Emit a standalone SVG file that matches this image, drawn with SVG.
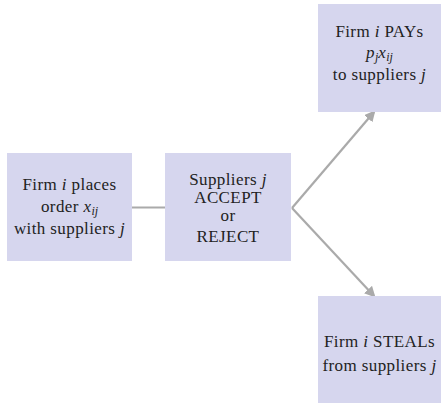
<svg xmlns="http://www.w3.org/2000/svg" width="442" height="404" viewBox="0 0 442 404">
<defs>
<marker id="ah" viewBox="0 0 10 10" refX="8" refY="5" markerWidth="5" markerHeight="5" orient="auto" markerUnits="strokeWidth">
<path d="M0,0 L10,5 L0,10 z" fill="#aaaaaa"/>
</marker>
<style>
.box{fill:#d6d6ee;}
.t{font-size:17px;letter-spacing:0.4px;fill:#222;text-anchor:middle;}
.m{font-style:italic;}
.s{font-size:12px;font-style:italic;letter-spacing:0;}
.c{stroke:#aaaaaa;stroke-width:2.2;fill:none;}
</style>
</defs>
<rect width="442" height="404" fill="#ffffff"/>
<g id="connectors">
<line class="c" x1="132" y1="207.5" x2="165" y2="207.5"/>
<line class="c" x1="292" y1="208" x2="374" y2="112" marker-end="url(#ah)"/>
<line class="c" x1="292" y1="208" x2="374" y2="296" marker-end="url(#ah)"/>
</g>
<g font-family="Liberation Serif, Times New Roman, serif">
<g id="place">
<rect class="box" x="7" y="153" width="125" height="108"/>
<text class="t" x="69.5" y="190">Firm <tspan class="m">i</tspan> places</text>
<text class="t" x="69.5" y="212">order <tspan class="m">x</tspan><tspan class="s" dy="3">ij</tspan></text>
<text class="t" x="69.5" y="234">with suppliers <tspan class="m">j</tspan></text>
</g>
<g id="accept">
<rect class="box" x="165" y="153" width="126" height="108"/>
<text class="t" x="228" y="185">Suppliers <tspan class="m">j</tspan></text>
<text class="t" x="228" y="203">ACCEPT</text>
<text class="t" x="228" y="221">or</text>
<text class="t" x="228" y="242">REJECT</text>
</g>
<g id="pay">
<rect class="box" x="318" y="4" width="123" height="108"/>
<text class="t" x="379.5" y="37">Firm <tspan class="m">i</tspan> PAYs</text>
<text class="t" x="379.5" y="58"><tspan class="m">p</tspan><tspan class="s" dy="3">j</tspan><tspan class="m" dy="-3">x</tspan><tspan class="s" dy="3">ij</tspan></text>
<text class="t" x="379.5" y="80">to suppliers <tspan class="m">j</tspan></text>
</g>
<g id="steal">
<rect class="box" x="318" y="296" width="123" height="107"/>
<text class="t" x="379.5" y="347">Firm <tspan class="m">i</tspan> STEALs</text>
<text class="t" x="379.5" y="371">from suppliers <tspan class="m">j</tspan></text>
</g>
</g>
</svg>
